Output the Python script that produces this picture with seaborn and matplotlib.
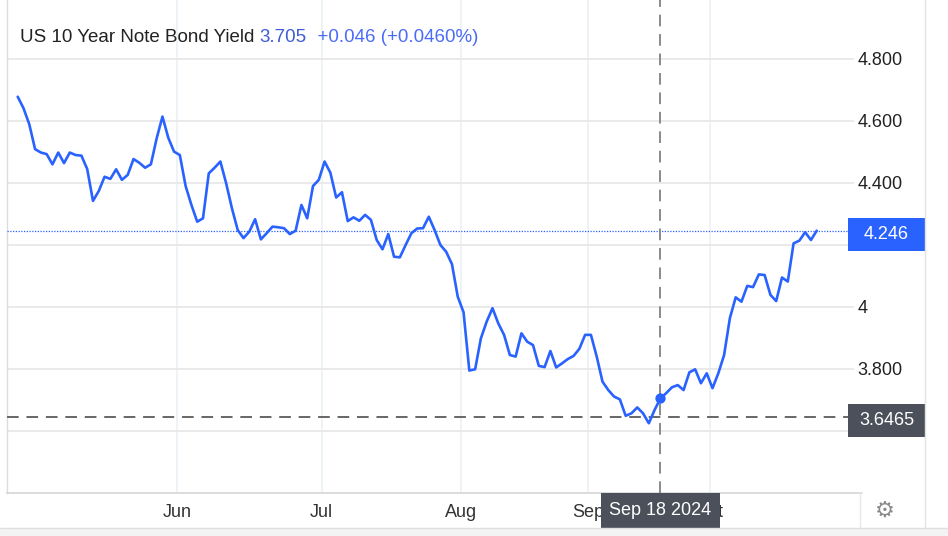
import matplotlib.pyplot as plt
import matplotlib.patches as mpatches
from matplotlib.lines import Line2D
from matplotlib.ticker import FuncFormatter
import seaborn as sns
import pandas as pd

# daily closes (late Apr .. late Oct 2024)
yields = [
    4.678, 4.641, 4.589, 4.509, 4.498, 4.493, 4.460, 4.498, 4.464, 4.498,
    4.490, 4.488, 4.445, 4.342, 4.374, 4.420, 4.413, 4.444, 4.410, 4.426,
    4.477, 4.465, 4.449, 4.460, 4.544, 4.614, 4.546, 4.501, 4.490, 4.390,
    4.329, 4.275, 4.286, 4.431, 4.449, 4.469, 4.399, 4.318, 4.248, 4.222,
    4.243, 4.283, 4.218, 4.238, 4.259, 4.257, 4.254, 4.235, 4.246, 4.329,
    4.286, 4.390, 4.410, 4.469, 4.433, 4.353, 4.370, 4.277, 4.289, 4.278,
    4.297, 4.281, 4.216, 4.186, 4.235, 4.162, 4.160, 4.200, 4.238, 4.253,
    4.254, 4.291, 4.248, 4.200, 4.178, 4.138, 4.033, 3.983, 3.795, 3.799,
    3.899, 3.953, 3.996, 3.947, 3.910, 3.845, 3.840, 3.915, 3.888, 3.877,
    3.810, 3.806, 3.858, 3.805, 3.818, 3.832, 3.842, 3.865, 3.910, 3.910,
    3.840, 3.759, 3.732, 3.711, 3.702, 3.649, 3.657, 3.676, 3.657, 3.625,
    3.668, 3.705, 3.722, 3.741, 3.748, 3.732, 3.789, 3.799, 3.754, 3.786,
    3.738, 3.786, 3.845, 3.964, 4.031, 4.017, 4.068, 4.064, 4.105, 4.103,
    4.039, 4.019, 4.095, 4.082, 4.205, 4.214, 4.241, 4.216, 4.246,
]
month_labels = ["Jun", "Jul", "Aug", "Sep", "Oct"]
month_first_point = [28, 53, 77, 99, 120]
y_ticks = [3.6, 3.8, 4.0, 4.2, 4.4, 4.6, 4.8]

hover_point = 111
hover_date = "Sep 18 2024"
hover_price = 3.6465
hover_change = "+0.046 (+0.0460%)"

LINE = "#2962ff"
DARK = "#4b505b"
W, H = 948, 536
PX = 1 / 310  # one pixel in yield units

sns.set_theme(style="white")
plt.rcParams["font.family"] = ["Liberation Sans", "DejaVu Sans"]

df = pd.DataFrame({"point": range(len(yields)), "yield": yields})
last = yields[-1]

fig = plt.figure(figsize=(W / 100, H / 100), dpi=100)
ax = fig.add_axes([7 / W, 43 / H, 841 / W, 493 / H])

sns.lineplot(data=df, x="point", y="yield", color=LINE, linewidth=1.9, ax=ax, zorder=4)
ax.scatter(hover_point, yields[hover_point], s=55, color=LINE, zorder=5, linewidths=0)

ax.set_xlim(-1.85, 143.4)
ax.set_ylim(3.4, 4.99)
ax.set_xlabel("")
ax.set_ylabel("")

ax.set_xticks([p - 0.5 for p in month_first_point], month_labels)
ax.set_yticks(y_ticks)
ax.yaxis.set_major_formatter(FuncFormatter(lambda v, _: "4" if abs(v - 4) < 1e-9 else f"{v:.3f}"))
ax.yaxis.tick_right()
ax.tick_params(axis="y", length=4, width=1.2, color="#e6e6e6", pad=3, labelsize=13, labelcolor="#222222")
ax.tick_params(axis="x", length=0, pad=8, labelsize=13, labelcolor="#333333")

ax.yaxis.grid(True, color="#e8e8e8", linewidth=1.3)
ax.xaxis.grid(True, color="#edf2f7", linewidth=1.3)
ax.set_axisbelow(True)

for side in ["top", "right"]:
    ax.spines[side].set_visible(False)
ax.spines["left"].set_color("#dcdcdc")
ax.spines["bottom"].set_color("#d6d6d6")
ax.spines["left"].set_linewidth(1)
ax.spines["bottom"].set_linewidth(1.2)

# last price dotted line and crosshair
ax.axhline(last, color=LINE, linestyle=(0, (1, 1.2)), linewidth=0.9, zorder=3)
ax.axhline(hover_price, color="#666666", linestyle=(0, (6, 4)), linewidth=1.4, zorder=3)
ax.axvline(hover_point, color="#8a8a8a", linestyle=(0, (6, 4)), linewidth=1.4, zorder=3)

# right side price boxes (sit a few pixels below their line)
ty = ax.get_yaxis_transform()
box_h = 33 * PX
shift = 3.5 * PX
for val, txt, col in [(last, f"{last:.3f}", LINE), (hover_price, f"{hover_price}", DARK)]:
    ax.add_patch(mpatches.Rectangle((1.0, val - shift - box_h / 2), 77 / 841, box_h, transform=ty,
                                    clip_on=False, facecolor=col, edgecolor="none", zorder=6))
    ax.text(1.0 + 38.5 / 841, val - shift, txt, transform=ty, ha="center", va="center",
            color="white", fontsize=13, zorder=7, clip_on=False)

# date box under the crosshair
tx = ax.get_xaxis_transform()
bw = 119 / 5.79
ax.add_patch(mpatches.Rectangle((hover_point - bw / 2, -35 / 493), bw, 35 / 493, transform=tx,
                                clip_on=False, facecolor=DARK, edgecolor="none", zorder=6))
ax.text(hover_point, -17.5 / 493, hover_date, transform=tx, ha="center", va="center",
        color="white", fontsize=13, zorder=7, clip_on=False)

# frame bits outside the axes
fig.add_artist(Line2D([925 / W, 925 / W], [8 / H, 1], color="#e3e3e3", linewidth=1))
fig.add_artist(Line2D([848 / W, 862 / W], [43 / H, 43 / H], color="#d6d6d6", linewidth=1.2))
fig.add_artist(Line2D([860 / W, 860 / W], [8 / H, 43 / H], color="#e8e8e8", linewidth=1))
fig.add_artist(mpatches.Rectangle((0, 0), 1, 8 / H, transform=fig.transFigure,
                                  facecolor="#f3f3f3", edgecolor="none"))
fig.add_artist(Line2D([0, 1], [8 / H, 8 / H], color="#e0e0e0", linewidth=1))
fig.text(885 / W, 1 - 511 / H, "\u2699", family="DejaVu Sans", fontsize=16,
         color="#8a8a8a", ha="center", va="center")

# title with coloured value and change
renderer = fig.canvas.get_renderer()
x = 20 / W
parts = [("US 10 Year Note Bond Yield ", "#222222"),
         (f"{yields[hover_point]:.3f}", "#3f5bd9"),
         ("  " + hover_change, "#4a6cf7")]
for s, c in parts:
    t = fig.text(x, 1 - 37 / H, s, color=c, fontsize=13.5, ha="left", va="center")
    x = t.get_window_extent(renderer=renderer).x1 / W

fig.savefig("out.png", dpi=100)
